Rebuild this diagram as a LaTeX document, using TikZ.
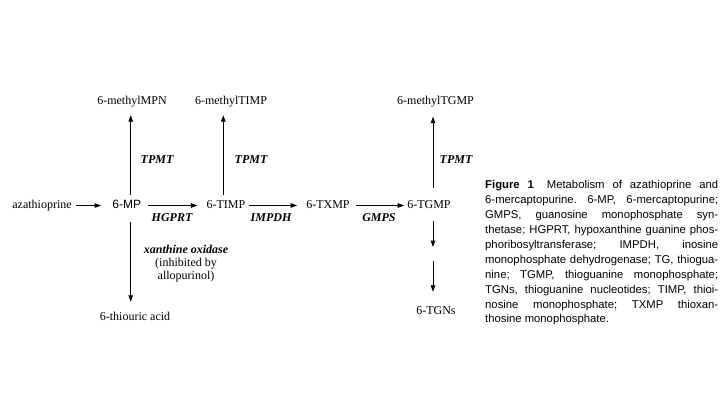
\documentclass[tikz,border=0pt]{standalone}
\usepackage{fontspec}
\setmainfont{Liberation Serif}
\setsansfont{Liberation Sans}
\usetikzlibrary{arrows.meta}
\begin{document}
\begin{tikzpicture}[x=1pt,y=-1pt,
  lbl/.style={inner sep=0pt,anchor=base,font=\fontsize{12}{13}\selectfont},
  rowlbl/.style={lbl,text height=8.5pt,text depth=2.5pt},
  toplbl/.style={lbl,text depth=2.5pt},
  enz/.style={lbl,font=\fontsize{12}{13}\selectfont\bfseries\itshape},
  arr/.style={line width=0.8pt,-{Triangle[length=6.5pt,width=4.5pt]}}]
\useasboundingbox (0,0) rectangle (720,405);
\fill[white] (0,0) rectangle (720,405);
% main row
\node[rowlbl] (aza) at (42,208.5) {azathioprine};
\node[rowlbl,font=\fontsize{12}{13}\sffamily] (mp) at (126.7,208.5) {6-MP};
\node[rowlbl] (timp) at (226,208.5) {6-TIMP};
\node[rowlbl] (txmp) at (328,208.5) {6-TXMP};
\node[rowlbl] (tgmp) at (429,208.5) {6-TGMP};
% top row
\node[toplbl] (mpn) at (132,104) {6-methylMPN};
\node[toplbl] (mtimp) at (231,104) {6-methylTIMP};
\node[toplbl] (mtgmp) at (435.5,104) {6-methylTGMP};
% bottom
\node[rowlbl] (thio) at (135,320) {6-thiouric acid};
\node[rowlbl] (tgns) at (436,314) {6-TGNs};
\coordinate (gap) at (433,254);
% enzymes
\node[enz] (tp1) at (157,163) {TPMT};
\node[enz] (tp2) at (251,163) {TPMT};
\node[enz] (tp3) at (456,163) {TPMT};
\node[enz] (hg) at (172,221) {HGPRT};
\node[enz] (im) at (271,221) {IMPDH};
\node[enz] (gm) at (379,221) {GMPS};
\node[lbl,anchor=north,align=center,font=\fontsize{12}{13}\selectfont] (xo) at (186,244.5)
  {\textbf{\textit{xanthine oxidase}}\\(inhibited by\\allopurinol)};
% horizontal arrows
\draw[arr,shorten <=4pt,shorten >=11pt] (aza.east) -- (mp.west);
\draw[arr,shorten <=7pt,shorten >=9pt] (mp.east) -- (timp.west);
\draw[arr,shorten <=3pt,shorten >=9pt] (timp.east) -- (txmp.west);
\draw[arr,shorten <=6pt,shorten >=3pt] (txmp.east) -- (tgmp.west);
% vertical arrows
\draw[arr,shorten <=5pt,shorten >=8.5pt] ([xshift=4pt]mp.north) -- ([xshift=4pt]mp.north |- mpn.south);
\draw[arr,shorten <=5pt,shorten >=8.5pt] ([xshift=-2.7pt]timp.north) -- ([xshift=-2.7pt]timp.north |- mtimp.south);
\draw[arr,shorten <=12pt,shorten >=10pt] ([xshift=4pt]tgmp.north) -- ([xshift=4pt]tgmp.north |- mtgmp.south);
\draw[arr,shorten <=11pt,shorten >=9.5pt] ([xshift=4pt]mp.south) -- ([xshift=4pt]mp.south |- thio.north);
\draw[arr,shorten <=10pt,shorten >=7pt] ([xshift=4pt]tgmp.south) -- (gap);
\draw[arr,shorten <=7pt,shorten >=13.5pt] (gap) -- (gap |- tgns.north);
% caption
\node[anchor=north west,inner sep=0pt,text width=233pt,align=justify,
  font=\sffamily\fontsize{11.3}{14.9}\selectfont] (cap) at (485,180.5)
  {\frenchspacing\hyphenpenalty=10000\exhyphenpenalty=10000
  \textbf{Figure 1}\hspace{5pt} Metabolism of azathioprine and\linebreak
  6-mercaptopurine. 6-MP, 6-mercaptopurine;\linebreak
  GMPS, guanosine monophosphate syn-\linebreak
  thetase; HGPRT, hypoxanthine guanine phos-\linebreak
  phoribosyltransferase; IMPDH, inosine\linebreak
  monophosphate dehydrogenase; TG, thiogua-\linebreak
  nine; TGMP, thioguanine monophosphate;\linebreak
  TGNs, thioguanine nucleotides; TIMP, thioi-\linebreak
  nosine monophosphate; TXMP thioxan-\linebreak
  thosine monophosphate.};
\end{tikzpicture}
\end{document}
